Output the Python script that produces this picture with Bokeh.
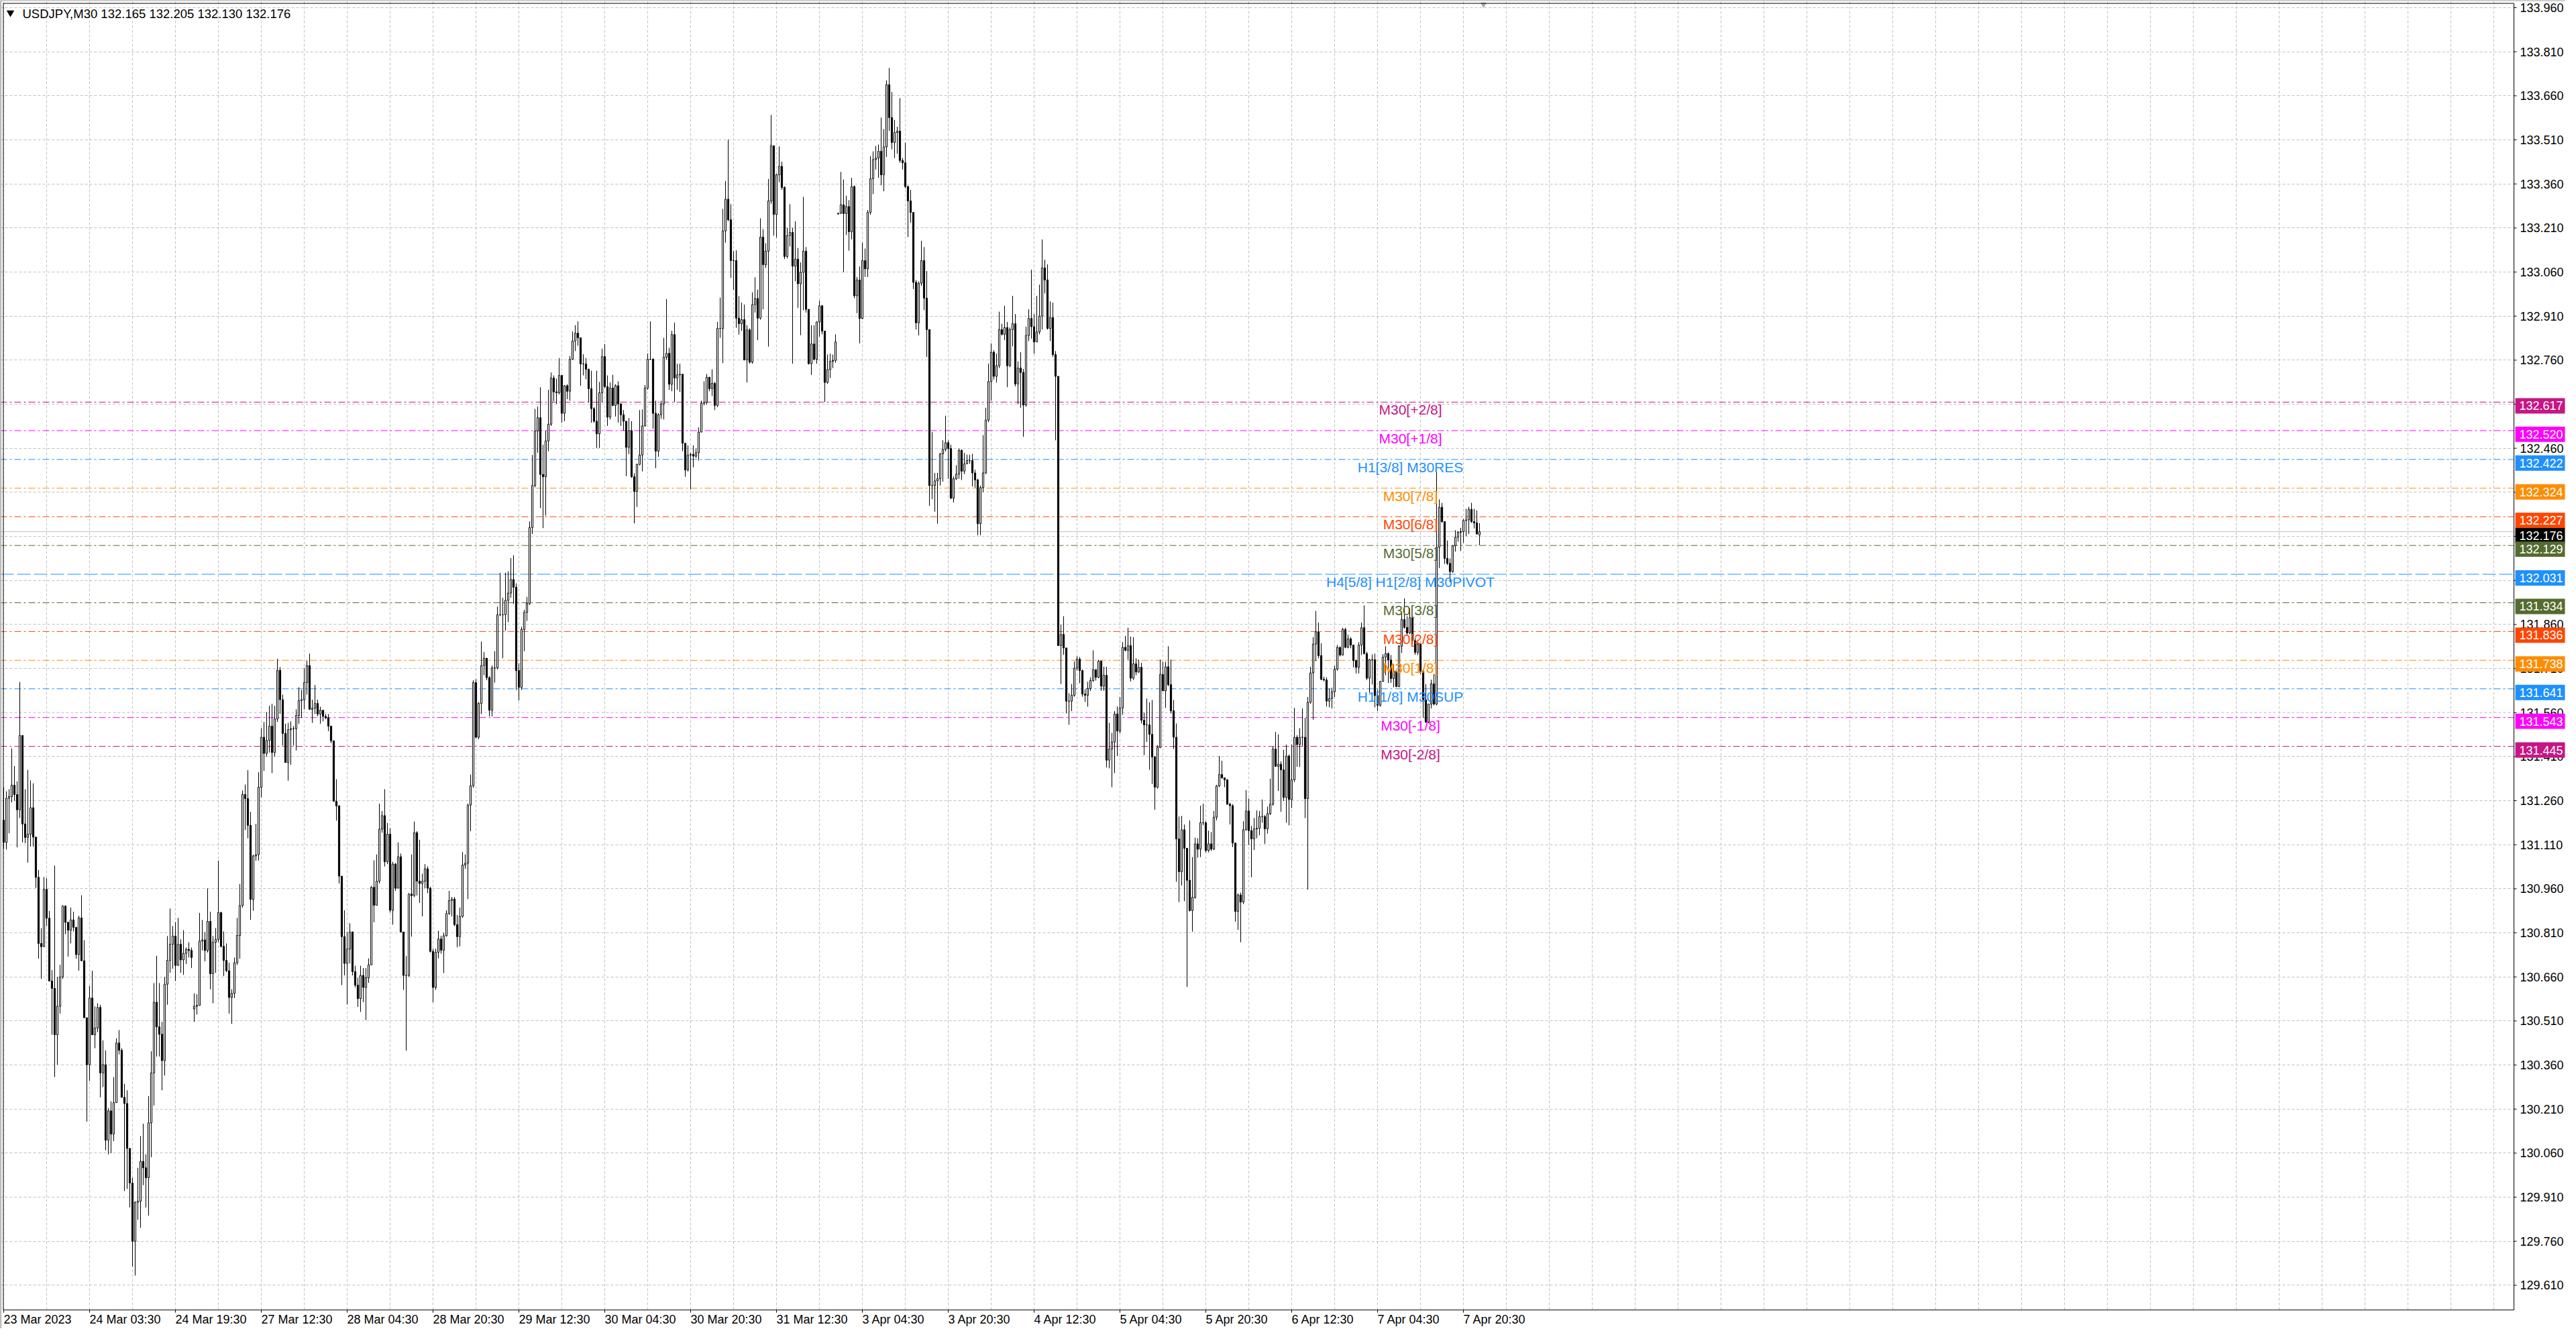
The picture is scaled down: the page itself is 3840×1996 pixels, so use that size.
from bokeh.plotting import figure
from bokeh.models import Range1d, FixedTicker, Span, Grid, ColumnDataSource
from bokeh.core.properties import value
from bokeh.embed import file_html
from bokeh.resources import INLINE

# ---------------- data (USDJPY M30) ----------------
opens = [
131.194, 131.118, 131.268, 131.274, 131.313, 131.281, 131.229, 131.482, 131.181, 131.135,
131.146, 131.236, 131.136, 130.999, 130.774, 130.763, 130.958, 130.860, 130.646, 130.621,
130.463, 130.560, 130.660, 130.901, 130.846, 130.819, 130.854, 130.829, 130.736, 130.861,
130.715, 130.521, 130.361, 130.588, 130.463, 130.486, 130.556, 130.333, 130.361, 130.104,
130.204, 130.125, 130.232, 130.435, 130.410, 130.250, 130.229, 130.076, 129.958, 129.760,
129.893, 129.896, 130.032, 130.010, 129.976, 130.163, 130.333, 130.574, 130.490, 130.465,
130.375, 130.635, 130.716, 130.771, 130.799, 130.699, 130.771, 130.718, 130.740, 130.754,
130.750, 130.551, 130.560, 130.563, 130.782, 130.786, 130.750, 130.849, 130.671, 130.778,
130.788, 130.879, 130.764, 130.716, 130.681, 130.590, 130.604, 130.708, 130.801, 130.903,
131.281, 131.267, 131.176, 130.924, 131.072, 131.076, 131.306, 131.476, 131.421, 131.465,
131.514, 131.424, 131.538, 131.704, 131.604, 131.489, 131.390, 131.502, 131.505, 131.505,
131.550, 131.601, 131.604, 131.662, 131.720, 131.571, 131.575, 131.591, 131.555, 131.568,
131.547, 131.542, 131.514, 131.464, 131.258, 131.242, 131.003, 130.797, 130.706, 130.755,
130.813, 130.678, 130.632, 130.586, 130.665, 130.624, 130.657, 130.701, 130.965, 130.904,
130.986, 131.163, 131.209, 131.052, 131.146, 130.887, 131.044, 130.962, 131.069, 130.813,
130.665, 130.665, 130.942, 130.937, 131.151, 130.986, 130.978, 130.986, 131.028, 130.962,
130.747, 130.624, 130.744, 130.789, 130.751, 130.800, 130.876, 130.920, 130.925, 130.838,
130.797, 130.866, 131.041, 131.047, 131.245, 131.311, 131.662, 131.476, 131.591, 131.720,
131.745, 131.679, 131.568, 131.712, 131.712, 131.893, 131.893, 131.893, 131.942, 131.967,
132.013, 131.987, 131.703, 131.646, 131.843, 131.901, 131.931, 132.190, 132.333, 132.519,
132.564, 132.371, 132.363, 132.485, 132.542, 132.699, 132.652, 132.649, 132.708, 132.579,
132.673, 132.654, 132.763, 132.825, 132.852, 132.836, 132.747, 132.747, 132.729, 132.663,
132.595, 132.552, 132.509, 132.649, 132.772, 132.670, 132.566, 132.665, 132.606, 132.673,
132.611, 132.574, 132.552, 132.463, 132.520, 132.363, 132.313, 132.405, 132.437, 132.536,
132.665, 132.763, 132.763, 132.579, 132.450, 132.574, 132.611, 132.770, 132.783, 132.678,
132.847, 132.699, 132.710, 132.712, 132.477, 132.386, 132.437, 132.439, 132.433, 132.445,
132.515, 132.613, 132.616, 132.702, 132.663, 132.681, 132.606, 132.868, 132.868, 133.200,
133.308, 133.238, 133.099, 133.099, 132.903, 132.884, 132.898, 132.761, 132.863, 132.753,
132.949, 132.970, 132.903, 133.179, 133.085, 133.131, 133.302, 133.490, 133.256, 133.391,
133.420, 133.348, 133.113, 133.184, 133.195, 133.080, 133.104, 133.020, 133.059, 133.131,
132.933, 132.748, 132.815, 132.763, 132.890, 132.945, 132.859, 132.684, 132.728, 132.756,
132.759, 133.258, 133.260, 133.289, 133.259, 133.283, 133.197, 133.351, 132.979, 133.033,
132.902, 133.099, 133.071, 133.263, 133.378, 133.443, 133.448, 133.471, 133.391, 133.486,
133.698, 133.586, 133.501, 133.535, 133.540, 133.440, 133.432, 133.351, 133.302, 133.263,
133.025, 132.887, 133.022, 133.099, 132.971, 132.864, 132.333, 132.333, 132.349, 132.356,
132.441, 132.456, 132.479, 132.459, 132.290, 132.356, 132.372, 132.453, 132.382, 132.407,
132.418, 132.418, 132.376, 132.352, 132.203, 132.326, 132.376, 132.556, 132.687, 132.787,
132.705, 132.741, 132.864, 132.848, 132.871, 132.741, 132.864, 132.884, 132.679, 132.733,
132.718, 132.607, 132.844, 132.902, 132.874, 132.822, 132.856, 132.910, 133.074, 133.033,
132.868, 132.905, 132.779, 132.705, 131.788, 131.826, 131.780, 131.599, 131.599, 131.619,
131.711, 131.742, 131.703, 131.623, 131.619, 131.642, 131.669, 131.706, 131.680, 131.735,
131.650, 131.687, 131.398, 131.436, 131.460, 131.555, 131.497, 131.576, 131.782, 131.772,
131.788, 131.677, 131.726, 131.698, 131.714, 131.534, 131.518, 131.518, 131.486, 131.409,
131.306, 131.441, 131.690, 131.634, 131.716, 131.655, 131.566, 131.476, 131.130, 131.018,
131.161, 131.098, 130.989, 130.886, 130.931, 131.113, 131.095, 131.185, 131.185, 131.090,
131.113, 131.095, 131.204, 131.310, 131.349, 131.338, 131.331, 131.248, 131.243, 131.116,
130.883, 130.939, 130.915, 131.161, 131.225, 131.158, 131.130, 131.164, 131.166, 131.206,
131.206, 131.164, 131.216, 131.248, 131.436, 131.377, 131.384, 131.365, 131.271, 131.412,
131.264, 131.331, 131.476, 131.451, 131.476, 131.476, 131.267, 131.595, 131.695, 131.793,
131.835, 131.754, 131.673, 131.671, 131.599, 131.608, 131.631, 131.708, 131.782, 131.756,
131.843, 131.782, 131.811, 131.790, 131.737, 131.714, 131.790, 131.849, 131.761, 131.677,
131.740, 131.740, 131.618, 131.585, 131.666, 131.749, 131.761, 131.739, 131.676, 131.701,
131.649, 131.786, 131.877, 131.850, 131.831, 131.883, 131.805, 131.765, 131.793, 131.701,
131.604, 131.528, 131.589, 131.658, 131.589, 132.123, 132.259, 132.210, 132.085, 132.068,
132.040, 132.128, 132.157, 132.174, 132.176, 132.214, 132.216, 132.252, 132.210, 132.206,
132.165]

highs = [
131.306, 131.292, 131.299, 131.438, 131.378, 131.326, 131.664, 131.482, 131.299, 131.365,
131.329, 131.319, 131.136, 131.024, 130.826, 131.000, 130.996, 130.885, 130.683, 131.039,
130.660, 130.701, 130.904, 130.904, 130.846, 130.896, 130.882, 130.829, 130.868, 130.938,
130.785, 130.521, 130.629, 130.681, 130.560, 130.570, 130.565, 130.444, 130.410, 130.213,
130.236, 130.319, 130.451, 130.479, 130.417, 130.296, 130.274, 130.076, 129.976, 129.896,
130.010, 130.118, 130.160, 130.056, 130.254, 130.407, 130.639, 130.732, 130.639, 130.507,
130.660, 130.799, 130.893, 130.833, 130.847, 130.861, 130.788, 130.819, 130.760, 130.778,
130.760, 130.604, 130.601, 130.878, 130.854, 130.813, 130.961, 130.882, 130.799, 130.826,
131.056, 130.882, 130.815, 130.774, 130.708, 130.618, 130.726, 130.861, 130.976, 131.295,
131.315, 131.364, 131.222, 131.076, 131.181, 131.357, 131.507, 131.528, 131.562, 131.583,
131.590, 131.583, 131.743, 131.715, 131.621, 131.522, 131.525, 131.530, 131.514, 131.571,
131.646, 131.637, 131.712, 131.736, 131.761, 131.604, 131.654, 131.604, 131.580, 131.568,
131.555, 131.555, 131.514, 131.464, 131.333, 131.245, 131.003, 130.887, 130.813, 130.843,
130.815, 130.698, 130.657, 130.698, 130.690, 130.690, 130.723, 130.970, 131.057, 131.077,
131.250, 131.225, 131.299, 131.184, 131.167, 131.052, 131.048, 131.118, 131.080, 130.813,
130.731, 130.945, 131.077, 131.189, 131.156, 131.127, 131.011, 131.044, 131.036, 130.967,
130.756, 130.756, 130.817, 130.800, 130.810, 130.887, 130.953, 130.932, 130.932, 130.871,
130.896, 131.085, 131.077, 131.250, 131.349, 131.670, 131.674, 131.596, 131.802, 131.766,
131.745, 131.684, 131.720, 131.769, 131.921, 132.036, 131.951, 132.036, 132.041, 132.086,
132.096, 132.000, 131.728, 131.852, 131.910, 131.954, 132.211, 132.437, 132.594, 132.602,
132.668, 132.472, 132.520, 132.659, 132.718, 132.708, 132.697, 132.767, 132.708, 132.675,
132.678, 132.774, 132.858, 132.879, 132.892, 132.836, 132.780, 132.767, 132.731, 132.724,
132.600, 132.724, 132.686, 132.799, 132.815, 132.708, 132.684, 132.710, 132.678, 132.688,
132.613, 132.590, 132.552, 132.563, 132.552, 132.375, 132.408, 132.590, 132.592, 132.675,
132.783, 132.892, 132.767, 132.622, 132.579, 132.622, 132.836, 132.968, 132.802, 132.860,
132.888, 132.748, 132.748, 132.712, 132.477, 132.470, 132.445, 132.470, 132.459, 132.531,
132.622, 132.688, 132.713, 132.702, 132.729, 132.686, 132.890, 132.973, 133.275, 133.370,
133.511, 133.291, 133.131, 133.134, 132.978, 132.956, 132.949, 132.879, 132.868, 132.991,
133.042, 133.000, 133.243, 133.206, 133.158, 133.377, 133.595, 133.490, 133.395, 133.488,
133.436, 133.352, 133.211, 133.291, 133.211, 133.233, 133.142, 133.093, 133.316, 133.145,
132.933, 132.879, 132.879, 132.892, 132.963, 132.948, 132.859, 132.779, 132.782, 132.779,
132.848, 133.262, 133.401, 133.375, 133.320, 133.305, 133.381, 133.355, 133.043, 133.079,
133.160, 133.140, 133.271, 133.455, 133.471, 133.489, 133.494, 133.586, 133.547, 133.713,
133.755, 133.673, 133.578, 133.555, 133.652, 133.448, 133.501, 133.355, 133.340, 133.263,
133.033, 133.028, 133.166, 133.145, 133.063, 132.864, 132.515, 132.376, 132.376, 132.444,
132.487, 132.571, 132.487, 132.472, 132.364, 132.402, 132.459, 132.456, 132.444, 132.438,
132.438, 132.441, 132.387, 132.356, 132.333, 132.505, 132.598, 132.748, 132.817, 132.794,
132.782, 132.925, 132.884, 132.945, 132.890, 132.871, 132.979, 132.917, 132.756, 132.787,
132.730, 132.874, 132.933, 133.068, 132.917, 132.979, 133.017, 133.171, 133.102, 133.086,
132.960, 132.956, 132.791, 132.705, 131.860, 131.888, 131.780, 131.626, 131.657, 131.734,
131.752, 131.749, 131.706, 131.639, 131.665, 131.680, 131.772, 131.706, 131.740, 131.737,
131.716, 131.716, 131.525, 131.491, 131.565, 131.581, 131.613, 131.800, 131.821, 131.849,
131.819, 131.817, 131.745, 131.740, 131.729, 131.560, 131.608, 131.595, 131.603, 131.412,
131.449, 131.740, 131.733, 131.733, 131.786, 131.740, 131.603, 131.523, 131.206, 131.208,
131.179, 131.098, 131.193, 131.068, 131.134, 131.132, 131.243, 131.250, 131.190, 131.158,
131.153, 131.225, 131.314, 131.412, 131.396, 131.338, 131.333, 131.253, 131.248, 131.116,
130.944, 130.947, 131.190, 131.296, 131.267, 131.174, 131.201, 131.227, 131.225, 131.264,
131.211, 131.240, 131.335, 131.444, 131.494, 131.486, 131.394, 131.433, 131.451, 131.417,
131.451, 131.576, 131.483, 131.507, 131.574, 131.542, 131.613, 131.716, 131.817, 131.906,
131.867, 131.796, 131.682, 131.680, 131.642, 131.645, 131.719, 131.790, 131.785, 131.849,
131.849, 131.825, 131.817, 131.790, 131.740, 131.800, 131.867, 131.925, 131.767, 131.743,
131.758, 131.761, 131.638, 131.668, 131.759, 131.786, 131.765, 131.756, 131.725, 131.706,
131.790, 131.901, 131.949, 131.888, 131.915, 131.888, 131.815, 131.800, 131.795, 131.706,
131.657, 131.589, 131.672, 131.691, 132.380, 132.286, 132.274, 132.211, 132.146, 132.085,
132.130, 132.181, 132.178, 132.189, 132.219, 132.254, 132.261, 132.274, 132.254, 132.248,
132.205]

lows = [
131.097, 131.094, 131.149, 131.254, 131.260, 131.101, 131.201, 131.118, 131.115, 131.049,
131.104, 131.104, 130.963, 130.722, 130.653, 130.763, 130.833, 130.646, 130.463, 130.319,
130.361, 130.535, 130.653, 130.806, 130.729, 130.774, 130.815, 130.722, 130.681, 130.713,
130.521, 130.167, 130.306, 130.463, 130.417, 130.472, 130.250, 130.285, 130.070, 130.056,
130.060, 130.101, 130.232, 130.396, 130.250, 129.931, 129.938, 129.875, 129.674, 129.643,
129.833, 129.806, 129.951, 129.875, 129.847, 130.046, 130.222, 130.389, 130.389, 130.274,
130.324, 130.565, 130.674, 130.688, 130.646, 130.699, 130.674, 130.667, 130.704, 130.726,
130.690, 130.507, 130.532, 130.563, 130.750, 130.713, 130.743, 130.618, 130.570, 130.674,
130.778, 130.760, 130.663, 130.676, 130.535, 130.500, 130.588, 130.701, 130.722, 130.896,
131.160, 131.132, 130.854, 130.885, 131.056, 131.056, 131.271, 131.361, 131.410, 131.424,
131.354, 131.410, 131.528, 131.556, 131.448, 131.390, 131.328, 131.382, 131.448, 131.431,
131.522, 131.542, 131.571, 131.621, 131.571, 131.525, 131.555, 131.547, 131.522, 131.530,
131.538, 131.497, 131.456, 131.258, 131.192, 130.978, 130.632, 130.665, 130.566, 130.706,
130.665, 130.624, 130.558, 130.541, 130.574, 130.513, 130.640, 130.701, 130.846, 130.904,
130.978, 131.151, 131.036, 131.044, 130.879, 130.838, 130.953, 130.962, 130.813, 130.616,
130.409, 130.660, 130.797, 130.932, 130.937, 130.912, 130.866, 130.962, 130.945, 130.743,
130.574, 130.616, 130.723, 130.739, 130.673, 130.797, 130.871, 130.866, 130.833, 130.761,
130.764, 130.861, 131.028, 130.925, 131.156, 131.304, 131.472, 131.469, 131.555, 131.687,
131.670, 131.547, 131.547, 131.662, 131.707, 131.888, 131.745, 131.839, 131.868, 131.951,
131.931, 131.637, 131.601, 131.637, 131.769, 131.872, 131.926, 132.168, 132.327, 132.445,
132.256, 132.188, 132.231, 132.450, 132.536, 132.620, 132.611, 132.643, 132.547, 132.552,
132.627, 132.622, 132.761, 132.791, 132.809, 132.673, 132.708, 132.695, 132.616, 132.547,
132.547, 132.461, 132.461, 132.616, 132.665, 132.536, 132.558, 132.603, 132.568, 132.547,
132.536, 132.520, 132.365, 132.440, 132.359, 132.204, 132.260, 132.402, 132.381, 132.534,
132.659, 132.761, 132.526, 132.392, 132.431, 132.560, 132.558, 132.761, 132.659, 132.654,
132.617, 132.659, 132.652, 132.450, 132.363, 132.381, 132.320, 132.395, 132.427, 132.418,
132.515, 132.606, 132.609, 132.654, 132.638, 132.590, 132.600, 132.836, 132.750, 133.160,
133.233, 133.040, 132.999, 132.870, 132.847, 132.860, 132.759, 132.684, 132.748, 132.748,
132.922, 132.828, 132.898, 132.933, 133.074, 132.806, 133.292, 133.184, 133.177, 133.366,
133.340, 133.104, 133.106, 133.147, 132.748, 133.029, 132.938, 132.845, 132.930, 132.922,
132.745, 132.710, 132.759, 132.748, 132.840, 132.848, 132.618, 132.679, 132.699, 132.733,
132.751, 133.255, 133.258, 133.059, 133.186, 133.133, 133.171, 132.971, 132.920, 132.817,
132.899, 133.043, 133.043, 133.255, 133.325, 133.409, 133.381, 133.355, 133.335, 133.452,
133.540, 133.478, 133.448, 133.463, 133.432, 133.409, 133.345, 133.179, 133.228, 133.002,
132.864, 132.844, 133.013, 132.930, 132.771, 132.264, 132.287, 132.244, 132.203, 132.333,
132.346, 132.449, 132.356, 132.287, 132.275, 132.352, 132.356, 132.352, 132.372, 132.407,
132.407, 132.330, 132.326, 132.164, 132.164, 132.310, 132.372, 132.549, 132.622, 132.694,
132.684, 132.733, 132.844, 132.828, 132.668, 132.736, 132.807, 132.671, 132.610, 132.598,
132.499, 132.602, 132.825, 132.833, 132.782, 132.822, 132.848, 132.864, 132.987, 132.864,
132.825, 132.771, 132.487, 131.788, 131.657, 131.757, 131.557, 131.519, 131.565, 131.614,
131.703, 131.660, 131.614, 131.596, 131.580, 131.634, 131.665, 131.669, 131.677, 131.634,
131.634, 131.373, 131.370, 131.306, 131.354, 131.412, 131.489, 131.553, 131.769, 131.740,
131.666, 131.671, 131.687, 131.695, 131.523, 131.415, 131.460, 131.365, 131.317, 131.229,
131.301, 131.439, 131.634, 131.576, 131.650, 131.557, 131.436, 130.984, 130.915, 130.971,
130.918, 130.626, 130.883, 130.814, 130.926, 131.066, 131.068, 131.176, 131.084, 131.084,
131.089, 131.092, 131.193, 131.306, 131.335, 131.306, 131.246, 131.179, 131.102, 130.848,
130.820, 130.778, 130.908, 131.158, 131.109, 130.999, 131.092, 131.132, 131.142, 131.185,
131.113, 131.148, 131.211, 131.243, 131.377, 131.293, 131.222, 131.259, 131.185, 131.176,
131.235, 131.324, 131.375, 131.375, 131.447, 131.201, 130.957, 131.590, 131.536, 131.735,
131.745, 131.671, 131.666, 131.581, 131.578, 131.574, 131.613, 131.703, 131.751, 131.754,
131.779, 131.779, 131.779, 131.714, 131.693, 131.693, 131.756, 131.758, 131.671, 131.627,
131.656, 131.578, 131.566, 131.580, 131.665, 131.687, 131.661, 131.661, 131.646, 131.646,
131.646, 131.763, 131.846, 131.824, 131.827, 131.793, 131.757, 131.756, 131.691, 131.543,
131.524, 131.524, 131.574, 131.585, 131.585, 132.052, 132.206, 132.066, 132.062, 132.004,
132.036, 132.108, 132.142, 132.110, 132.138, 132.161, 132.168, 132.206, 132.187, 132.166,
132.130]

closes = [
131.118, 131.268, 131.274, 131.313, 131.281, 131.229, 131.482, 131.181, 131.135, 131.146,
131.236, 131.136, 130.999, 130.774, 130.763, 130.958, 130.860, 130.646, 130.621, 130.463,
130.560, 130.660, 130.901, 130.846, 130.819, 130.854, 130.829, 130.736, 130.861, 130.715,
130.521, 130.361, 130.588, 130.463, 130.486, 130.556, 130.333, 130.361, 130.104, 130.204,
130.125, 130.232, 130.435, 130.410, 130.250, 130.229, 130.076, 129.958, 129.760, 129.893,
129.896, 130.032, 130.010, 129.976, 130.163, 130.333, 130.574, 130.490, 130.465, 130.375,
130.635, 130.716, 130.771, 130.799, 130.699, 130.771, 130.718, 130.740, 130.754, 130.750,
130.726, 130.560, 130.563, 130.782, 130.786, 130.750, 130.849, 130.671, 130.778, 130.788,
130.879, 130.764, 130.716, 130.681, 130.590, 130.604, 130.708, 130.801, 130.903, 131.281,
131.267, 131.176, 130.924, 131.072, 131.076, 131.306, 131.476, 131.421, 131.465, 131.514,
131.424, 131.538, 131.704, 131.604, 131.489, 131.390, 131.502, 131.505, 131.505, 131.550,
131.601, 131.604, 131.662, 131.720, 131.571, 131.575, 131.591, 131.555, 131.568, 131.547,
131.542, 131.514, 131.464, 131.258, 131.242, 131.003, 130.797, 130.706, 130.755, 130.813,
130.678, 130.632, 130.586, 130.665, 130.624, 130.657, 130.701, 130.965, 130.904, 130.986,
131.163, 131.209, 131.052, 131.146, 130.887, 131.044, 130.962, 131.069, 130.813, 130.665,
130.665, 130.942, 130.937, 131.151, 130.986, 130.978, 130.986, 131.028, 130.962, 130.747,
130.624, 130.744, 130.789, 130.751, 130.800, 130.876, 130.920, 130.925, 130.838, 130.797,
130.866, 131.041, 131.047, 131.245, 131.311, 131.662, 131.476, 131.591, 131.720, 131.745,
131.679, 131.568, 131.712, 131.712, 131.893, 131.893, 131.893, 131.942, 131.967, 132.013,
131.987, 131.703, 131.646, 131.843, 131.901, 131.931, 132.190, 132.333, 132.519, 132.564,
132.371, 132.363, 132.485, 132.542, 132.699, 132.652, 132.649, 132.708, 132.579, 132.673,
132.654, 132.763, 132.825, 132.852, 132.836, 132.747, 132.747, 132.729, 132.663, 132.595,
132.552, 132.509, 132.649, 132.772, 132.670, 132.566, 132.665, 132.606, 132.673, 132.611,
132.574, 132.552, 132.463, 132.520, 132.363, 132.313, 132.405, 132.437, 132.536, 132.665,
132.763, 132.763, 132.579, 132.450, 132.574, 132.611, 132.770, 132.783, 132.678, 132.847,
132.699, 132.710, 132.712, 132.477, 132.386, 132.437, 132.439, 132.433, 132.445, 132.515,
132.613, 132.616, 132.702, 132.663, 132.681, 132.606, 132.868, 132.868, 133.200, 133.308,
133.238, 133.099, 133.099, 132.903, 132.884, 132.898, 132.761, 132.863, 132.753, 132.949,
132.970, 132.903, 133.179, 133.085, 133.131, 133.302, 133.490, 133.256, 133.391, 133.420,
133.348, 133.113, 133.184, 133.195, 133.080, 133.104, 133.020, 133.059, 133.131, 132.933,
132.748, 132.815, 132.763, 132.890, 132.945, 132.859, 132.684, 132.728, 132.756, 132.759,
132.822, 133.260, 133.289, 133.259, 133.283, 133.197, 133.351, 132.979, 133.033, 132.902,
133.099, 133.071, 133.263, 133.378, 133.443, 133.448, 133.471, 133.391, 133.486, 133.698,
133.586, 133.501, 133.535, 133.540, 133.440, 133.432, 133.351, 133.302, 133.263, 133.025,
132.887, 133.022, 133.099, 132.971, 132.864, 132.333, 132.333, 132.349, 132.356, 132.441,
132.456, 132.479, 132.459, 132.290, 132.356, 132.372, 132.453, 132.382, 132.407, 132.418,
132.418, 132.376, 132.352, 132.203, 132.326, 132.376, 132.556, 132.687, 132.787, 132.705,
132.741, 132.864, 132.848, 132.871, 132.741, 132.864, 132.884, 132.679, 132.733, 132.718,
132.607, 132.844, 132.902, 132.874, 132.822, 132.856, 132.910, 133.074, 133.033, 132.868,
132.905, 132.779, 132.705, 131.788, 131.826, 131.780, 131.599, 131.599, 131.619, 131.711,
131.742, 131.703, 131.623, 131.619, 131.642, 131.669, 131.706, 131.680, 131.735, 131.650,
131.687, 131.398, 131.436, 131.460, 131.555, 131.497, 131.576, 131.782, 131.772, 131.788,
131.677, 131.726, 131.698, 131.714, 131.534, 131.518, 131.518, 131.486, 131.409, 131.306,
131.441, 131.690, 131.634, 131.716, 131.655, 131.566, 131.476, 131.130, 131.018, 131.161,
131.098, 130.989, 130.886, 130.931, 131.113, 131.095, 131.185, 131.185, 131.090, 131.113,
131.095, 131.204, 131.310, 131.349, 131.338, 131.331, 131.248, 131.243, 131.116, 130.883,
130.939, 130.915, 131.161, 131.225, 131.158, 131.130, 131.164, 131.166, 131.206, 131.206,
131.164, 131.216, 131.248, 131.436, 131.377, 131.384, 131.365, 131.271, 131.412, 131.264,
131.331, 131.476, 131.451, 131.476, 131.476, 131.267, 131.595, 131.695, 131.793, 131.835,
131.754, 131.673, 131.671, 131.599, 131.608, 131.631, 131.708, 131.782, 131.756, 131.843,
131.782, 131.811, 131.790, 131.737, 131.714, 131.790, 131.849, 131.761, 131.677, 131.740,
131.740, 131.618, 131.585, 131.666, 131.749, 131.761, 131.739, 131.676, 131.701, 131.649,
131.786, 131.877, 131.850, 131.831, 131.883, 131.805, 131.765, 131.793, 131.701, 131.604,
131.528, 131.589, 131.658, 131.589, 132.123, 132.259, 132.210, 132.085, 132.068, 132.040,
132.128, 132.157, 132.174, 132.176, 132.214, 132.216, 132.252, 132.210, 132.206, 132.168,
132.176]

date_labels = ["23 Mar 2023", "24 Mar 03:30", "24 Mar 19:30", "27 Mar 12:30", "28 Mar 04:30",
               "28 Mar 20:30", "29 Mar 12:30", "30 Mar 04:30", "30 Mar 20:30", "31 Mar 12:30",
               "3 Apr 04:30", "3 Apr 20:30", "4 Apr 12:30", "5 Apr 04:30", "5 Apr 20:30",
               "6 Apr 12:30", "7 Apr 04:30", "7 Apr 20:30"]
date_label_bars = [0, 32, 64, 96, 128, 160, 192, 224, 256, 288, 320, 352, 384, 416, 448, 480, 512, 544]

price_ticks = [129.610, 129.760, 129.910, 130.060, 130.210, 130.360, 130.510, 130.660, 130.810,
               130.960, 131.110, 131.260, 131.410, 131.560, 131.710, 131.860, 132.010, 132.160,
               132.310, 132.460, 132.610, 132.760, 132.910, 133.060, 133.210, 133.360, 133.510,
               133.660, 133.810, 133.960]

level_prices = [132.617, 132.520, 132.422, 132.324, 132.227, 132.129, 132.031,
                131.934, 131.836, 131.738, 131.641, 131.543, 131.445]
level_names = ["M30[+2/8]", "M30[+1/8]", "H1[3/8] M30RES", "M30[7/8]", "M30[6/8]", "M30[5/8]",
               "H4[5/8] H1[2/8] M30PIVOT", "M30[3/8]", "M30[2/8]", "M30[1/8]",
               "H1[1/8] M30SUP", "M30[-1/8]", "M30[-2/8]"]
level_colors = ["#C71585", "#FF00FF", "#1E90FF", "#FF8C00", "#FF4500", "#556B2F", "#1E90FF",
                "#556B2F", "#FF4500", "#FF8C00", "#1E90FF", "#FF00FF", "#C71585"]
level_dashes = ["10 4 3 4", "10 4 3 4", "10 4 3 4", "10 4 3 4", "10 4 3 4", "10 4 3 4", "20 5",
                "10 4 3 4", "10 4 3 4", "10 4 3 4", "10 4 3 4", "10 4 3 4", "10 4 3 4"]

bid_price = 132.176
header_text = "USDJPY,M30  132.165 132.205 132.130 132.176"

# ---------------- layout helpers ----------------
# positions below are given in the reference screenshot's pixels; px()/py() turn them into
# data coordinates.  The vertical scale is 0.5 % tighter than the screenshot so that the
# time labels fit inside the 1980 px tall figure.
PX_PER_BAR = 4.0
REF_PX_PER_PRICE = 440.0
FIG_PX_PER_PRICE = 437.8
def bx(px):            # horizontal pixel -> bar coordinate
    return (px - 5.0) / PX_PER_BAR
def py(ypx):           # reference vertical pixel -> price coordinate
    return 133.960 - (ypx - 11.0) / REF_PX_PER_PRICE

W, H = 3824, 1980
X0, X1 = bx(0), bx(W)
Y1 = 133.960 + 11.0 / FIG_PX_PER_PRICE
Y0 = 133.960 - (H - 11.0) / FIG_PX_PER_PRICE
AXIS_X = bx(3747)      # price scale line
AXIS_Y = py(1962)      # time scale line

FONT = "Liberation Sans"
p = figure(width=W, height=H, x_range=Range1d(X0, X1), y_range=Range1d(Y0, Y1),
           output_backend="svg", toolbar_location=None,
           x_axis_location=None, y_axis_location=None,
           min_border_left=0, min_border_top=0, min_border_right=0, min_border_bottom=0)
p.background_fill_color = "white"
p.border_fill_color = "white"
p.outline_line_color = None
for r in list(p.center):
    if isinstance(r, Grid):
        r.visible = False

# grids
p.add_layout(Grid(dimension=0, ticker=FixedTicker(ticks=list(range(0, 936, 16))),
                  grid_line_color="#C0C0C0", grid_line_dash="4 3", grid_line_width=1))
p.add_layout(Grid(dimension=1, ticker=FixedTicker(ticks=price_ticks),
                  grid_line_color="#C0C0C0", grid_line_dash="4 3", grid_line_width=1))

# level lines and bid line (under the candles)
for lp, lc, ld in zip(level_prices, level_colors, level_dashes):
    p.add_layout(Span(location=lp, dimension="width", line_color=lc, line_width=1,
                      line_dash=ld, level="underlay"))
p.add_layout(Span(location=bid_price, dimension="width", line_color="#C0C0C0",
                  line_width=1, level="underlay"))

# candles
n = min(len(opens), len(highs), len(lows), len(closes))
xs = list(range(n))
up = [i for i in range(n) if closes[i] >= opens[i]]
dn = [i for i in range(n) if closes[i] < opens[i]]
src_up = ColumnDataSource(dict(x=[xs[i] for i in up], top=[closes[i] for i in up],
                               bottom=[opens[i] for i in up]))
src_dn = ColumnDataSource(dict(x=[xs[i] for i in dn], top=[opens[i] for i in dn],
                               bottom=[closes[i] for i in dn]))
p.segment(x0=xs, y0=lows[:n], x1=xs, y1=highs[:n], line_color="black", line_width=1)
p.vbar(x="x", top="top", bottom="bottom", width=0.55, source=src_up,
       fill_color="white", line_color="black", line_width=1)
p.vbar(x="x", top="top", bottom="bottom", width=0.55, source=src_dn,
       fill_color="black", line_color="black", line_width=1)

# level names in the chart
lab_src = ColumnDataSource(dict(x=[bx(2102)] * len(level_prices), y=level_prices,
                                t=level_names, c=level_colors))
p.text(x="x", y="y", text="t", text_color="c", source=lab_src,
       text_font=value(FONT), text_font_size="21px",
       text_align="center", text_baseline="top")

# header and chart-shift marker
p.scatter(x=[bx(15)], y=[py(18.5)], marker="inverted_triangle", size=10, color="black")
p.text(x=[bx(33)], y=[py(9.5)], text=[header_text], text_font=value(FONT),
       text_font_size="18.5px", text_align="left", text_baseline="top", text_color="black")
p.scatter(x=[bx(2211)], y=[py(6)], marker="inverted_triangle", size=8, color="#A8A8A8")

# white margins for the price scale column and time scale row
p.quad(left=[AXIS_X], right=[X1], bottom=[Y0], top=[Y1], fill_color="white", line_color=None)
p.quad(left=[X0], right=[X1], bottom=[Y0], top=[AXIS_Y], fill_color="white", line_color=None)

# window border (grey) and chart frame (black)
p.segment(x0=[bx(0.5), bx(0.5)], y0=[Y1, Y1], x1=[bx(0.5), X1], y1=[Y0, Y1],
          line_color="#A0A0A0", line_width=2)
p.segment(x0=[bx(4.5), bx(4.5), AXIS_X, bx(4.5)], y0=[py(4.5), py(4.5), py(4.5), AXIS_Y],
          x1=[bx(4.5), AXIS_X, AXIS_X, AXIS_X], y1=[AXIS_Y, py(4.5), AXIS_Y, AXIS_Y],
          line_color="black", line_width=1)

# price scale: ticks + labels
p.segment(x0=[AXIS_X] * len(price_ticks), y0=price_ticks,
          x1=[bx(3751)] * len(price_ticks), y1=price_ticks, line_color="black", line_width=1)
p.text(x=[bx(3756)] * len(price_ticks), y=price_ticks, text=["%.3f" % t for t in price_ticks],
       text_font=value(FONT), text_font_size="18px", text_align="left",
       text_baseline="middle", text_color="black")

# time scale: ticks + labels (left aligned at their bar)
p.segment(x0=date_label_bars, y0=[AXIS_Y] * len(date_label_bars),
          x1=date_label_bars, y1=[py(1966)] * len(date_label_bars),
          line_color="black", line_width=1)
p.text(x=date_label_bars, y=[py(1966.5)] * len(date_label_bars),
       text=date_labels, text_font=value(FONT), text_font_size="18px",
       text_align="left", text_baseline="top", text_color="black")

# price boxes on the right scale (current price first, levels on top)
box_prices = [bid_price] + level_prices
box_colors = ["black"] + level_colors
off_top, off_bot, off_txt = 6.0 / REF_PX_PER_PRICE, 17.0 / REF_PX_PER_PRICE, 5.5 / REF_PX_PER_PRICE
p.quad(left=[bx(3749)] * len(box_prices), right=[bx(3823)] * len(box_prices),
       top=[b + off_top for b in box_prices], bottom=[b - off_bot for b in box_prices],
       fill_color=box_colors, line_color=None)
p.text(x=[bx(3755)] * len(box_prices), y=[b - off_txt for b in box_prices],
       text=["%.3f" % b for b in box_prices], text_font=value(FONT), text_font_size="18px",
       text_align="left", text_baseline="middle", text_color="white")

open("out.html", "w").write(file_html(p, INLINE, "USDJPY,M30"))
